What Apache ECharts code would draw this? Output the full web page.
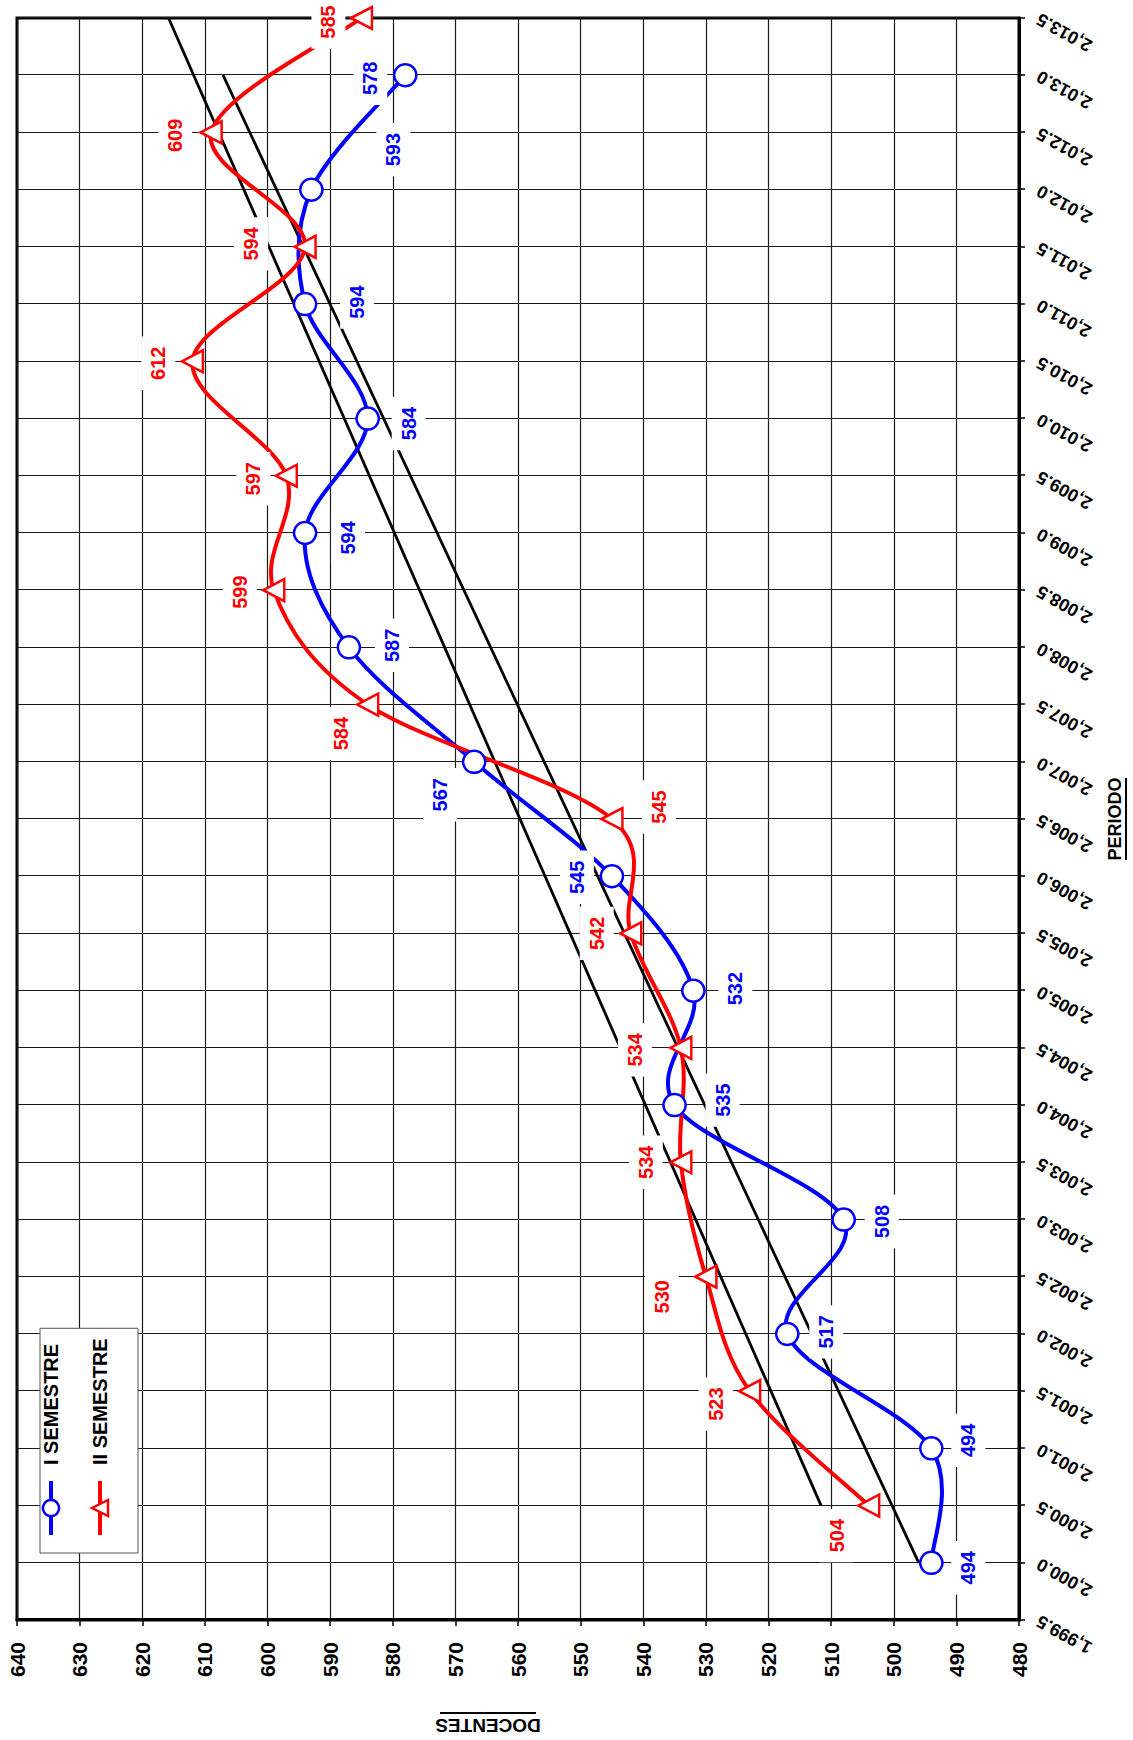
<!DOCTYPE html>
<html><head><meta charset="utf-8">
<script src="https://cdn.jsdelivr.net/npm/echarts@6/dist/echarts.min.js"></script>
<style>
html,body{margin:0;padding:0;width:1133px;height:1740px;overflow:hidden;background:#fff;}
#chart{position:absolute;left:0;top:0;width:1740px;height:1133px;transform-origin:0 0;transform:translate(0,1740px) rotate(-90deg);}
</style></head><body><div id="chart"></div>
<script>
// ---- data ----
const periodsI = [2000, 2001, 2002, 2003, 2004, 2005, 2006, 2007, 2008, 2009, 2010, 2011, 2012, 2013];
const semestreI = [494, 494, 517, 508, 535, 532, 545, 567, 587, 594, 584, 594, 593, 578];
const periodsII = [2000.5, 2001.5, 2002.5, 2003.5, 2004.5, 2005.5, 2006.5, 2007.5, 2008.5, 2009.5, 2010.5, 2011.5, 2012.5, 2013.5];
const semestreII = [504, 523, 530, 534, 534, 542, 545, 584, 599, 597, 612, 594, 609, 585];
const trendIPeriods = [2000, 2013];
const trendIValues = [496.0, 607.1];
const trendIIPeriods = [2000.5, 2013.5];
const trendIIValues = [511.6, 615.8];
const periodTickLabels = ['1,999.5','2,000.0','2,000.5','2,001.0','2,001.5','2,002.0','2,002.5','2,003.0','2,003.5','2,004.0','2,004.5','2,005.0','2,005.5','2,006.0','2,006.5','2,007.0','2,007.5','2,008.0','2,008.5','2,009.0','2,009.5','2,010.0','2,010.5','2,011.0','2,011.5','2,012.0','2,012.5','2,013.0','2,013.5'];
const docentesTickLabels = ['480','490','500','510','520','530','540','550','560','570','580','590','600','610','620','630','640'];
const seriesNames = ['I SEMESTRE', 'II SEMESTRE'];

// ---- label placement (styling, not data) ----
const labelOffsetsI = [[-5,37],[8,37],[2,39],[-2,38],[5,48],[2,42],[-1,-35],[-33,-34],[2,43],[-5,43],[-5,41],[2,52],[40,82],[-3,-35]];
const labelOffsetsII = [[-30,-32],[-13,-34],[-20,-44],[0,-35],[-2,-46],[0,-34],[12,47],[-29,-27],[-2,-34],[-3,-33],[-2,-34],[3,-54],[-3,-36],[-4,-33]];

const FONT = "'Liberation Sans','Arimo',Arial,sans-serif";
const BLUE = '#0000ff', RED = '#ff0000';

const chart = echarts.init(document.getElementById('chart'), null, {renderer: 'svg', width: 1740, height: 1133});

function pts(xs, ys, offs) {
  return xs.map((x, i) => ({value: [x, ys[i]], label: offs ? {offset: offs[i]} : undefined}));
}
const labelBase = (color) => ({
  show: true, position: 'inside', color: color, fontFamily: FONT, fontWeight: 'bold', fontSize: 20,
  backgroundColor: '#fff', padding: [7, 10], align: 'center', verticalAlign: 'middle',
  formatter: (p) => String(p.value[1])
});

// Smoothed curve (spreadsheet-style cardinal spline) drawn through the axis scales
function curveSeries(xs, ys, color) {
  const n = xs.length;
  return {
    type: 'custom', coordinateSystem: 'cartesian2d', z: 3, silent: true, clip: false,
    encode: {x: 0, y: 1},
    data: xs.map((x, i) => [x, ys[i]]),
    renderItem: (params, api) => {
      const i = params.dataIndex;
      if (i >= n - 1) return null;
      const P = (k) => { k = Math.max(0, Math.min(n - 1, k)); return api.coord([xs[k], ys[k]]); };
      const p0 = P(i - 1), p1 = P(i), p2 = P(i + 1), p3 = P(i + 2);
      const t = 1 / 6;
      return {
        type: 'bezierCurve',
        shape: {
          x1: p1[0], y1: p1[1], x2: p2[0], y2: p2[1],
          cpx1: p1[0] + (p2[0] - p0[0]) * t, cpy1: p1[1] + (p2[1] - p0[1]) * t,
          cpx2: p2[0] - (p3[0] - p1[0]) * t, cpy2: p2[1] - (p3[1] - p1[1]) * t
        },
        style: {stroke: color, lineWidth: 4, fill: 'none', lineCap: 'round'}
      };
    }
  };
}

chart.setOption({
  backgroundColor: '#fff',
  animation: false,
  grid: {left: 120, right: 18, top: 17, bottom: 114, show: true, borderColor: '#000', borderWidth: 3, backgroundColor: 'transparent', outerBoundsMode: 'none'},
  legend: {
    left: 187, top: 40, orient: 'vertical', padding: [1, 10, 28, 16], itemGap: 29,
    itemWidth: 54, itemHeight: 20, backgroundColor: '#fff', borderColor: '#555', borderWidth: 1,
    textStyle: {fontSize: 20, fontWeight: 'bold', fontFamily: FONT, color: '#000', padding: [0, 0, 0, 11]},
    data: [
      {name: seriesNames[0], lineStyle: {opacity: 1, width: 4, color: BLUE}, itemStyle: {color: '#fff', borderColor: BLUE, borderWidth: 2.5}},
      {name: seriesNames[1], lineStyle: {opacity: 1, width: 4, color: RED}, itemStyle: {color: '#fff', borderColor: RED, borderWidth: 2.5}}
    ]
  },
  xAxis: {
    type: 'value', min: 1999.5, max: 2013.5, interval: 0.5,
    axisLine: {show: true, lineStyle: {color: '#000', width: 3}},
    axisTick: {show: true, length: 6, lineStyle: {color: '#000', width: 1.5}},
    splitLine: {show: true, lineStyle: {color: '#1a1a1a', width: 1.2}},
    axisLabel: {rotate: 61, margin: 19, color: '#000', fontFamily: FONT, fontWeight: 'bold', fontSize: 18,
      formatter: (v) => periodTickLabels[Math.round((v - 1999.5) * 2)]}
  },
  yAxis: {
    type: 'value', min: 480, max: 640, interval: 10,
    axisLine: {show: true, lineStyle: {color: '#000', width: 3}},
    axisTick: {show: true, length: 6, lineStyle: {color: '#000', width: 1.5}},
    splitLine: {show: true, lineStyle: {color: '#1a1a1a', width: 1.2}},
    axisLabel: {margin: 22, color: '#000', fontFamily: FONT, fontWeight: 'bold', fontSize: 21,
      formatter: (v) => docentesTickLabels[Math.round((v - 480) / 10)]}
  },
  graphic: [
    {type: 'text', x: 921, y: 1115, z: 100, style: {text: 'PERIODO', align: 'center', verticalAlign: 'middle', fill: '#000', font: "bold 18px " + FONT}},
    {type: 'line', z: 100, shape: {x1: 880, y1: 1126, x2: 962, y2: 1126}, style: {stroke: '#000', lineWidth: 2}},
    {type: 'text', x: 15, y: 488, rotation: Math.PI / 2, z: 100, style: {text: 'DOCENTES', align: 'center', verticalAlign: 'middle', fill: '#000', font: "bold 19px " + FONT}},
    {type: 'line', z: 100, shape: {x1: 27, y1: 440, x2: 27, y2: 536}, style: {stroke: '#000', lineWidth: 2}}
  ],
  series: [
    {
      name: 'trendI', type: 'line', z: 2, symbol: 'none', silent: true,
      data: pts(trendIPeriods, trendIValues),
      lineStyle: {color: '#000', width: 2.8}
    },
    {
      name: 'trendII', type: 'line', z: 2, symbol: 'none', silent: true,
      data: pts(trendIIPeriods, trendIIValues),
      lineStyle: {color: '#000', width: 2.8}
    },
    curveSeries(periodsI, semestreI, BLUE),
    curveSeries(periodsII, semestreII, RED),
    {
      name: seriesNames[0], type: 'line', z: 4, clip: false,
      data: pts(periodsI, semestreI, labelOffsetsI),
      symbol: 'circle', symbolSize: 22,
      lineStyle: {color: BLUE, width: 4, opacity: 0},
      itemStyle: {color: '#fff', borderColor: BLUE, borderWidth: 2.5},
      label: labelBase(BLUE)
    },
    {
      name: seriesNames[1], type: 'line', z: 4, clip: false,
      data: pts(periodsII, semestreII, labelOffsetsII),
      symbol: 'triangle', symbolSize: [22, 21],
      lineStyle: {color: RED, width: 4, opacity: 0},
      itemStyle: {color: '#fff', borderColor: RED, borderWidth: 2.5},
      label: labelBase(RED)
    }
  ]
});
</script></body></html>
